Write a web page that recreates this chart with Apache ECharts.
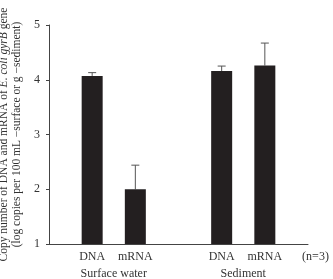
<!DOCTYPE html>
<html>
<head>
<meta charset="utf-8">
<script src="https://cdn.jsdelivr.net/npm/echarts@6/dist/echarts.min.js"></script>
<style>
html, body { margin: 0; padding: 0; background: #fff; }
#main { width: 333px; height: 279px; }
</style>
</head>
<body>
<div id="main"></div>
<script>
// slots along the x axis; blanks are spacers between the two groups
var categories = ['', 'DNA', 'mRNA', '', 'DNA', 'mRNA', '(n=3)'];
var means = ['-', 4.07, 2.00, '-', 4.16, 4.26, '-'];
var errTops = ['-', 4.13, 2.44, '-', 4.25, 4.67, '-'];
var groupNames = { 1.5: 'Surface water', 4.5: 'Sediment' };
var yTicks = [1, 2, 3, 4, 5];

var font = '"Liberation Serif", "DejaVu Serif", serif';
var myChart = echarts.init(document.getElementById('main'));

var errData = [];
for (var i = 0; i < categories.length; i++) {
	if (errTops[i] !== '-') errData.push([i, means[i], errTops[i]]);
}

var option = {
	animation: false,
	backgroundColor: '#fff',
	grid: { left: 49, right: 25, top: 25, bottom: 35, outerBoundsMode: 'none', containLabel: false },
	xAxis: [{
		type: 'category',
		data: categories,
		boundaryGap: false,
		axisLine: { lineStyle: { color: '#444', width: 1 } },
		axisTick: { show: false },
		axisLabel: {
			color: '#333', fontFamily: font, fontSize: 12, margin: 7, interval: 0,
			formatter: function (v) { return v.charAt(0) === '(' ? '{n|' + v + '}' : v; },
			rich: { n: { fontFamily: font, fontSize: 12, color: '#333', padding: [0, 0, 0, 15] } }
		}
	}, {
		type: 'value',
		min: 0, max: 6, interval: 1.5,
		position: 'bottom',
		axisLine: { show: false },
		axisTick: { show: false },
		splitLine: { show: false },
		axisLabel: {
			color: '#333', fontFamily: font, fontSize: 12, margin: 24,
			formatter: function (v) { return groupNames[v] || ''; }
		}
	}],
	yAxis: {
		type: 'value',
		min: yTicks[0], max: yTicks[yTicks.length - 1], interval: 1,
		axisLine: { show: true, lineStyle: { color: '#444', width: 1 } },
		axisTick: { show: true, length: 3, lineStyle: { color: '#444' } },
		splitLine: { show: false },
		axisLabel: { color: '#333', fontFamily: font, fontSize: 12, margin: 9 },
		name: '{a|Copy number of DNA and mRNA of }{i|E. coli gyrB}{a| gene}\n{a|(log copies per 100 mL \u2212surface or g \u2212sediment)}',
		nameLocation: 'middle',
		nameRotate: 90,
		nameGap: 25,
		nameTextStyle: {
			color: '#333', fontFamily: font, fontSize: 11.5, lineHeight: 12.5,
			rich: {
				a: { fontFamily: font, fontSize: 11.5, color: '#333', lineHeight: 12.5 },
				i: { fontFamily: font, fontSize: 11.5, color: '#333', fontStyle: 'italic', lineHeight: 12.5 }
			}
		}
	},
	series: [{
		type: 'bar',
		data: means,
		barWidth: 21,
		itemStyle: { color: '#231f20' }
	}, {
		type: 'custom',
		data: errData,
		z: 1,
		renderItem: function (params, api) {
			var base = api.coord([api.value(0), api.value(1)]);
			var top = api.coord([api.value(0), api.value(2)]);
			var style = { stroke: '#555', lineWidth: 1 };
			return {
				type: 'group',
				children: [
					{ type: 'line', shape: { x1: base[0], y1: base[1], x2: top[0], y2: top[1] }, style: style },
					{ type: 'line', shape: { x1: top[0] - 4, y1: top[1], x2: top[0] + 4, y2: top[1] }, style: style }
				]
			};
		}
	}]
};
myChart.setOption(option);
</script>
</body>
</html>
